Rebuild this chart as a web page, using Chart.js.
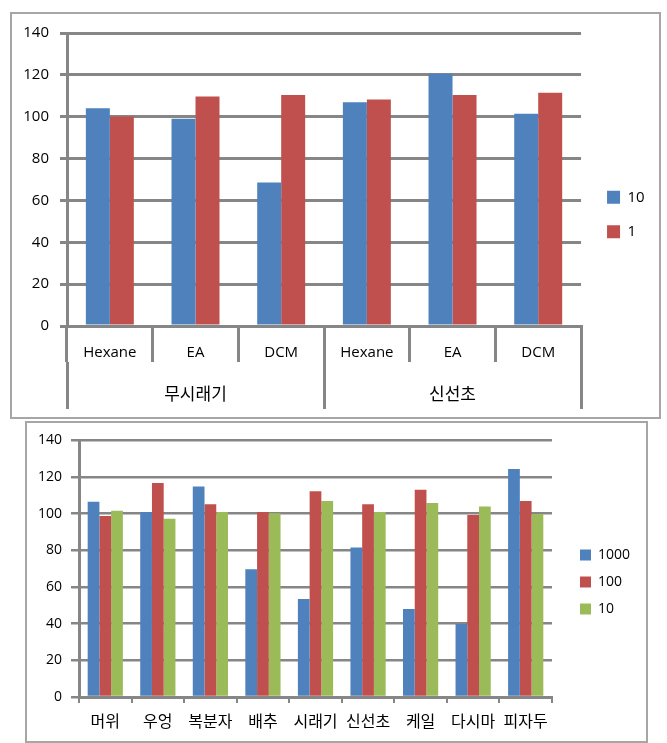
<!DOCTYPE html>
<html><head><meta charset="utf-8">
<script src="https://cdn.jsdelivr.net/npm/chart.js@4.4.1/dist/chart.umd.min.js"></script>
<style>
html,body{margin:0;padding:0;background:#fff;width:667px;height:743px;overflow:hidden;position:relative}
.box{position:absolute;border:2px solid #a6a6a6;box-sizing:border-box}
canvas{position:absolute}
</style></head><body>
<div class="box" style="left:10px;top:12px;width:651px;height:407px"></div>
<div class="box" style="left:25px;top:421px;width:623px;height:322px"></div>
<canvas id="c1" width="652" height="405" style="left:11px;top:13px"></canvas>
<canvas id="c2" width="620" height="318" style="left:26px;top:423px"></canvas>
<script>
// ---- data ----
const topCategories = ['Hexane', 'EA', 'DCM', 'Hexane', 'EA', 'DCM'];
const topGroups = ['무시래기', '신선초'];
const topSeries10 = [104.1, 99.0, 68.6, 106.9, 120.5, 101.4];
const topSeries1 = [100.1, 109.6, 110.4, 108.2, 110.4, 111.5];

const bottomCategories = ['머위', '우엉', '복분자', '배추', '시래기', '신선초', '케일', '다시마', '피자두'];
const bottom1000 = [106.5, 101.0, 114.8, 69.7, 53.5, 81.6, 48.0, 39.8, 124.4];
const bottom100 = [98.7, 116.8, 105.2, 101.0, 112.3, 105.2, 113.1, 99.3, 106.9];
const bottom10 = [101.6, 97.3, 100.9, 100.3, 106.9, 100.9, 105.8, 103.9, 99.8];

// ---- style ----
const G = '#868686';
const BLUE = '#4f81bd', RED = '#c0504d', GREEN = '#9bbb59';
Chart.defaults.font.family = "'Open Sans','Noto Sans CJK KR',sans-serif";
Chart.defaults.color = '#000';

// invisible layout spacers (no drawing), used only to place the legend
function spacer(pos, size) {
  return {type: 'linear', position: pos, display: true, weight: 0,
    grid: {display: false}, border: {display: false}, ticks: {display: false},
    afterFit: s => { if (pos === 'right') s.width = size; else s.height = size; }};
}

new Chart(document.getElementById('c1'), {
  type: 'bar',
  data: {
    labels: topCategories,
    datasets: [
      {label: '10', data: topSeries10, backgroundColor: BLUE, borderWidth: 0, xAxisID: 'x', yAxisID: 'y', categoryPercentage: 0.56, barPercentage: 1},
      {label: '1', data: topSeries1, backgroundColor: RED, borderWidth: 0, xAxisID: 'x', yAxisID: 'y', categoryPercentage: 0.56, barPercentage: 1}
    ]
  },
  options: {
    responsive: false, animation: false, devicePixelRatio: 1,
    layout: {padding: {top: 10, bottom: 12, left: 0, right: 8.3}},
    plugins: {
      legend: {position: 'right', labels: {boxWidth: 13, boxHeight: 13, padding: 19.5, font: {size: 15}, color: '#000'}},
      tooltip: {enabled: false}
    },
    scales: {
      y: {min: 0, max: 140, ticks: {stepSize: 20, font: {size: 15}, padding: 11, color: '#000'},
        grid: {color: G, lineWidth: 3, tickLength: 7}, border: {color: G, width: 3},
        afterFit: s => { s.width = 56; }},
      x: {type: 'category', position: 'bottom', offset: true, weight: 0,
        grid: {offset: true, drawOnChartArea: false, color: G, lineWidth: 3, tickLength: 36},
        border: {color: G, width: 3},
        ticks: {font: {size: 15}, padding: -18, color: '#000', autoSkip: false, maxRotation: 0, minRotation: 0},
        afterFit: s => { s.height = 36; }},
      x2: {type: 'category', position: 'bottom', labels: topGroups, offset: true, weight: 1,
        grid: {offset: true, drawOnChartArea: false, color: G, lineWidth: 3, tickLength: 47},
        border: {display: false},
        ticks: {font: {size: 17}, padding: -24, color: '#000', autoSkip: false, maxRotation: 0, minRotation: 0},
        afterFit: s => { s.height = 44; }},
      spR: spacer('right', 6.5),
      spT: spacer('top', 8)
    }
  }
});

new Chart(document.getElementById('c2'), {
  type: 'bar',
  data: {
    labels: bottomCategories,
    datasets: [
      {label: '1000', data: bottom1000, backgroundColor: BLUE, borderWidth: 0, xAxisID: 'x', yAxisID: 'y', categoryPercentage: 0.67, barPercentage: 1},
      {label: '100', data: bottom100, backgroundColor: RED, borderWidth: 0, xAxisID: 'x', yAxisID: 'y', categoryPercentage: 0.67, barPercentage: 1},
      {label: '10', data: bottom10, backgroundColor: GREEN, borderWidth: 0, xAxisID: 'x', yAxisID: 'y', categoryPercentage: 0.67, barPercentage: 1}
    ]
  },
  options: {
    responsive: false, animation: false, devicePixelRatio: 1,
    layout: {padding: {top: 4, bottom: 4, left: 0, right: 6}},
    plugins: {
      legend: {position: 'right', labels: {boxWidth: 11, boxHeight: 11, padding: 13, font: {size: 14}, color: '#000'}},
      tooltip: {enabled: false}
    },
    scales: {
      y: {min: 0, max: 140, ticks: {stepSize: 20, font: {size: 14}, padding: 9, color: '#000'},
        grid: {color: G, lineWidth: 2.5, tickLength: 8}, border: {color: G, width: 3},
        afterFit: s => { s.width = 53; }},
      x: {type: 'category', position: 'bottom', offset: true,
        grid: {offset: true, drawOnChartArea: false, color: G, lineWidth: 2, tickLength: 6},
        border: {color: G, width: 3},
        ticks: {font: {size: 16}, padding: 10, color: '#000', autoSkip: false, maxRotation: 0, minRotation: 0},
        afterFit: s => { s.height = 40; }},
      spR: spacer('right', 15),
      spT: spacer('top', 11)
    }
  }
});
</script>
</body></html>
